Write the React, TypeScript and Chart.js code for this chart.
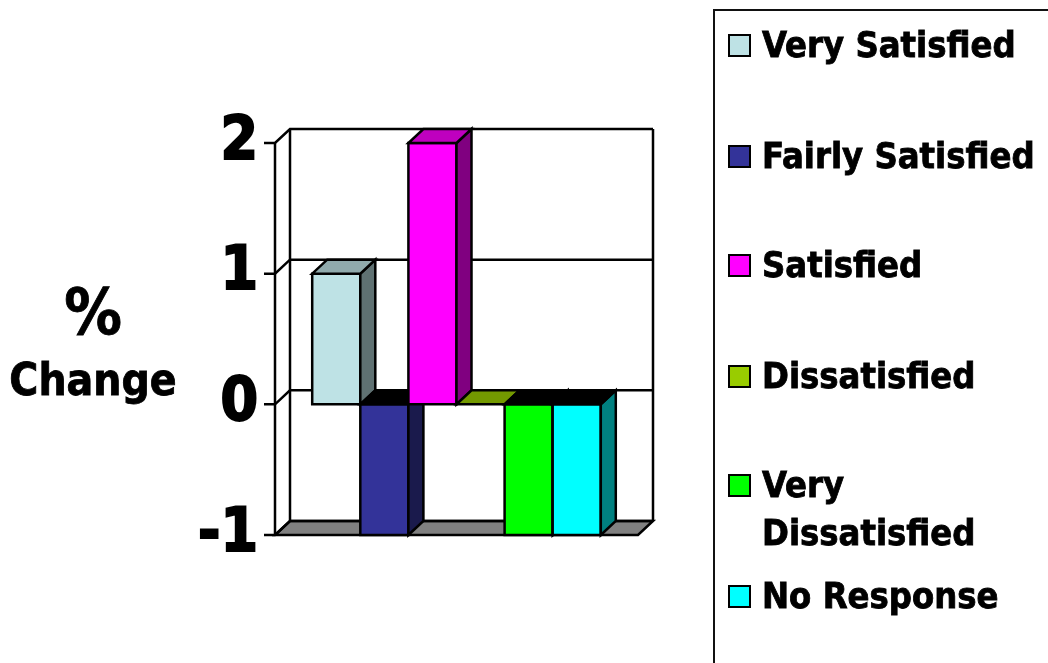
import React, { useEffect, useRef } from "react";
import { Chart, registerables } from "chart.js";

Chart.register(...registerables);

// ---- data ----
const categories = [""];
const seriesNames = [
  "Very Satisfied",
  "Fairly Satisfied",
  "Satisfied",
  "Dissatisfied",
  "Very Dissatisfied",
  "No Response",
];
const seriesValues = [1, -1, 2, 0, -1, -1];
const legendLines = [
  ["Very Satisfied"],
  ["Fairly Satisfied"],
  ["Satisfied"],
  ["Dissatisfied"],
  ["Very", "Dissatisfied"],
  ["No Response"],
];
const yMin = -1;
const yMax = 2;
const yStep = 1;
const axisTitleLines = ["%", "Change"];

// ---- styles ----
const frontColors = ["#BEE2E5", "#333399", "#FF00FF", "#99CC00", "#00FF00", "#00FFFF"];
const sideColors = ["#5F7172", "#1A1A4C", "#800080", "#4C6600", "#008000", "#008080"];
const topColors = ["#90AAAC", "#000000", "#BF00BF", "#739900", "#000000", "#000000"];
const FONT = '"DejaVu Sans Condensed", "DejaVu Sans", sans-serif';
const DX = 15;
const DY = -14;
const LW = 2.5;

const box3d = {
  id: "box3d",
  beforeDatasetsDraw(chart: any) {
    const { ctx, chartArea, scales } = chart;
    const { left, right } = chartArea;
    const y = scales.y;
    const yT = y.getPixelForValue(y.max);
    const yB = y.getPixelForValue(y.min);
    ctx.save();
    ctx.lineWidth = LW;
    ctx.strokeStyle = "#000";
    ctx.lineJoin = "miter";
    // floor
    ctx.beginPath();
    ctx.moveTo(left, yB);
    ctx.lineTo(right, yB);
    ctx.lineTo(right + DX, yB + DY);
    ctx.lineTo(left + DX, yB + DY);
    ctx.closePath();
    ctx.fillStyle = "#808080";
    ctx.fill();
    ctx.stroke();
    // grid lines on side and back walls
    y.ticks.forEach((t: any) => {
      const py = y.getPixelForValue(t.value);
      ctx.beginPath();
      ctx.moveTo(left - 11, py);
      ctx.lineTo(left, py);
      ctx.lineTo(left + DX, py + DY);
      ctx.lineTo(right + DX, py + DY);
      ctx.stroke();
    });
    // verticals
    ctx.beginPath();
    ctx.moveTo(left, yT);
    ctx.lineTo(left, yB);
    ctx.moveTo(left + DX, yT + DY);
    ctx.lineTo(left + DX, yB + DY);
    ctx.moveTo(right + DX, yT + DY);
    ctx.lineTo(right + DX, yB + DY);
    ctx.stroke();
    ctx.restore();
  },
  afterDatasetsDraw(chart: any) {
    const { ctx } = chart;
    ctx.save();
    ctx.lineWidth = LW;
    ctx.strokeStyle = "#000";
    ctx.lineJoin = "miter";
    const poly = (pts: number[][], fill: string) => {
      ctx.beginPath();
      ctx.moveTo(pts[0][0], pts[0][1]);
      for (let k = 1; k < pts.length; k++) ctx.lineTo(pts[k][0], pts[k][1]);
      ctx.closePath();
      ctx.fillStyle = fill;
      ctx.fill();
      ctx.stroke();
    };
    chart.data.datasets.forEach((ds: any, i: number) => {
      const meta = chart.getDatasetMeta(i);
      const el = meta.data[0];
      if (!el) return;
      const { x, y, base, width } = el.getProps(["x", "y", "base", "width"], true);
      const l = x - width / 2;
      const r = x + width / 2;
      const top = Math.min(y, base);
      const bot = Math.max(y, base);
      if (bot - top > 0.5) {
        poly([[l, top], [r, top], [r, bot], [l, bot]], frontColors[i]);
        poly([[r, top], [r + DX, top + DY], [r + DX, bot + DY], [r, bot]], sideColors[i]);
      }
      poly([[l, top], [r, top], [r + DX, top + DY], [l + DX, top + DY]], topColors[i]);
    });
    ctx.restore();
  },
};

function ChartCanvas() {
  const ref = useRef<HTMLCanvasElement | null>(null);
  useEffect(() => {
    if (!ref.current) return;
    const chart = new Chart(ref.current, {
      type: "bar",
      data: {
        labels: categories,
        datasets: seriesNames.map((name, i) => ({
          label: name,
          data: [seriesValues[i]],
          backgroundColor: "rgba(0,0,0,0)",
          borderWidth: 0,
        })),
      },
      options: {
        responsive: false,
        animation: false,
        events: [],
        datasets: { bar: { categoryPercentage: 0.795, barPercentage: 1 } },
        layout: { padding: { left: 0, right: 410, top: 143, bottom: 128 } },
        plugins: { legend: { display: false }, tooltip: { enabled: false }, title: { display: false } },
        scales: {
          x: { display: false },
          y: {
            min: yMin,
            max: yMax,
            grid: { display: false },
            border: { display: false },
            afterFit: (scale: any) => {
              scale.width = 275;
            },
            ticks: {
              stepSize: yStep,
              padding: 9,
              color: "#000",
              textStrokeColor: "#000",
              textStrokeWidth: 2,
              font: { family: FONT, size: 60, weight: "bold" },
            },
          },
        },
      },
      plugins: [box3d],
    });
    return () => chart.destroy();
  }, []);
  return <canvas ref={ref} width={1048} height={663} style={{ position: "absolute", left: 0, top: 0 }} />;
}

export default function App() {
  const baselines = [57, 168, 277, 388, 497, 608];
  const legendSize = 36;
  const legendLH = 48;
  const legendBaseOff = (legendLH - 1.164 * legendSize) / 2 + 0.928 * legendSize;
  const stroke = { WebkitTextStroke: "0.8px #000" } as any;
  return (
    <div
      style={{
        position: "fixed",
        left: 0,
        top: 0,
        width: 1048,
        height: 663,
        background: "#fff",
        overflow: "hidden",
        fontFamily: FONT,
        fontWeight: "bold",
        color: "#000",
      }}
    >
      <ChartCanvas />
      <div
        style={{
          position: "absolute",
          left: 0,
          top: 334 - 0.846 * 64,
          width: 186,
          textAlign: "center",
          fontSize: 64,
          lineHeight: "64px",
          ...stroke,
        }}
      >
        {axisTitleLines[0]}
      </div>
      <div
        style={{
          position: "absolute",
          left: 0,
          top: 395 - 0.846 * 44,
          width: 186,
          textAlign: "center",
          fontSize: 44,
          lineHeight: "44px",
          ...stroke,
        }}
      >
        {axisTitleLines[1]}
      </div>
      <div
        style={{
          position: "absolute",
          left: 713,
          top: 9,
          width: 400,
          height: 700,
          border: "2.5px solid #111",
          boxSizing: "border-box",
        }}
      />
      {seriesNames.map((name, i) => (
        <React.Fragment key={name}>
          <div
            style={{
              position: "absolute",
              left: 728,
              top: baselines[i] - 23,
              width: 19,
              height: 19,
              border: "2px solid #000",
              background: frontColors[i],
            }}
          />
          <div
            style={{
              position: "absolute",
              left: 762,
              top: baselines[i] - legendBaseOff,
              fontSize: legendSize,
              lineHeight: legendLH + "px",
              whiteSpace: "nowrap",
              ...stroke,
            }}
          >
            {legendLines[i].map((ln, k) => (
              <div key={k}>{ln}</div>
            ))}
          </div>
        </React.Fragment>
      ))}
    </div>
  );
}
